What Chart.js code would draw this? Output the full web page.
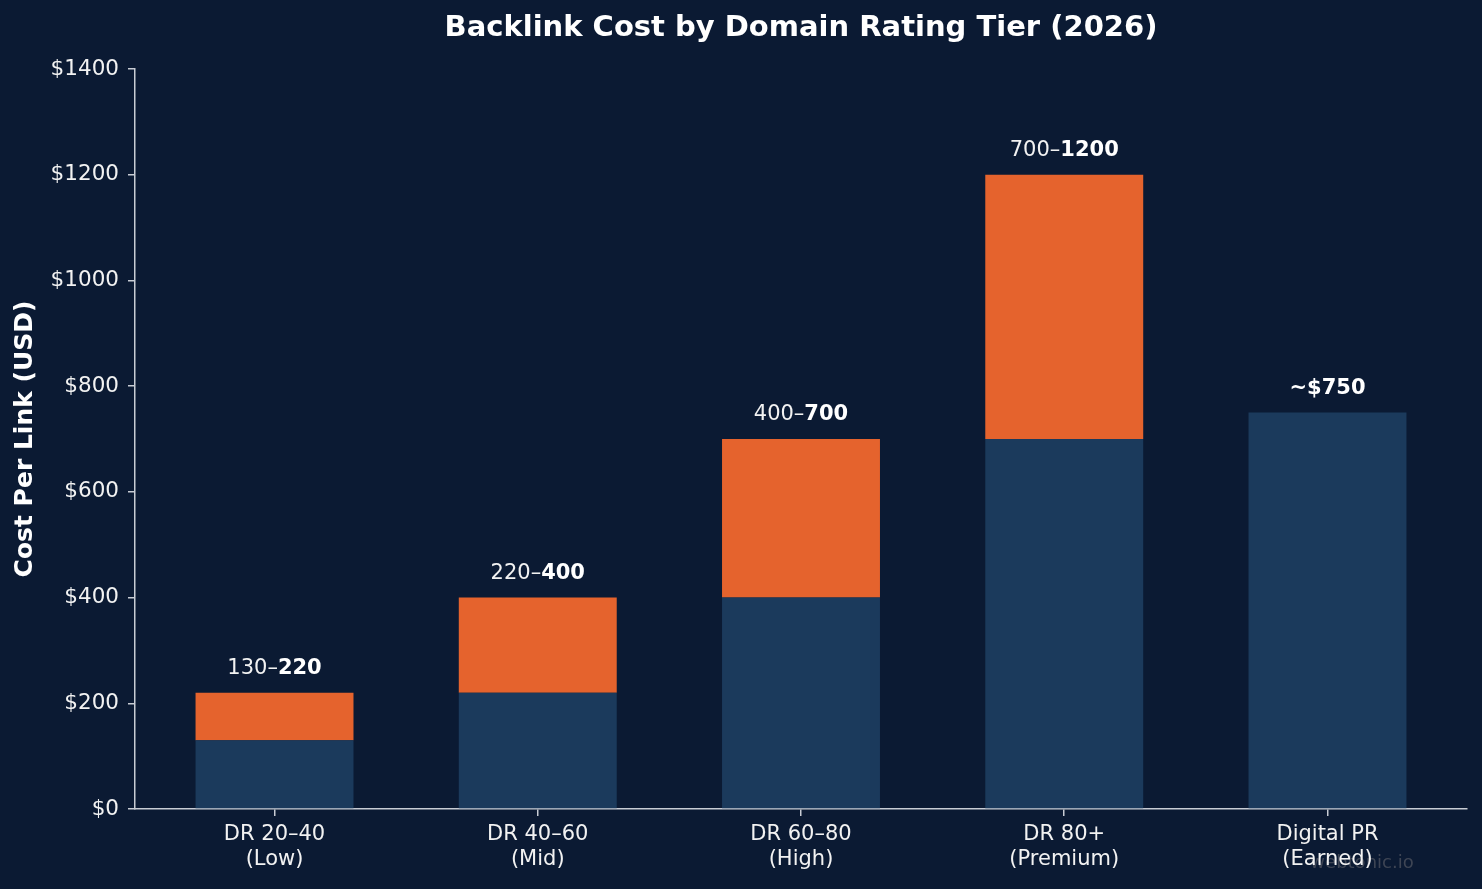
<!DOCTYPE html>
<html><head><meta charset="utf-8">
<script src="https://cdn.jsdelivr.net/npm/chart.js@4.4.1/dist/chart.umd.min.js"></script>
<style>html,body{margin:0;padding:0;background:#0b1a33;}canvas{display:block;}</style>
</head><body>
<canvas id="c" width="1482" height="889"></canvas>
<script>
const categories = [["DR 20–40","(Low)"],["DR 40–60","(Mid)"],["DR 60–80","(High)"],["DR 80+","(Premium)"],["Digital PR","(Earned)"]];
const lowCost = [130, 220, 400, 700, 750];
const highCost = [220, 400, 700, 1200, 750];
const rangeExtra = highCost.map((h, i) => h - lowCost[i]);
const barLabelsNormal = ["130–", "220–", "400–", "700–", ""];
const barLabelsBold = ["220", "400", "700", "1200", "~$750"];
const yTicks = [0, 200, 400, 600, 800, 1000, 1200, 1400];

const BG = '#0b1a33';
const FONT = "'DejaVu Sans', sans-serif";
const TXT = '#f2f2f2';
const SPINE = '#c8ccd4';

const bgPlugin = {
  id: 'bg',
  beforeDraw(chart) {
    const ctx = chart.ctx;
    ctx.save();
    ctx.fillStyle = BG;
    ctx.fillRect(0, 0, chart.width, chart.height);
    ctx.font = `18px ${FONT}`;
    ctx.fillStyle = '#3e4554';
    ctx.textAlign = 'center';
    ctx.textBaseline = 'middle';
    ctx.fillText('webtonic.io', 1362, 863);
    ctx.restore();
  }
};

const textPlugin = {
  id: 'texts',
  afterDraw(chart) {
    const ctx = chart.ctx;
    const xs = chart.scales.x, ys = chart.scales.y;
    ctx.save();
    ctx.fillStyle = '#ffffff';
    ctx.font = `bold 29px ${FONT}`;
    ctx.textAlign = 'center';
    ctx.textBaseline = 'middle';
    ctx.fillText('Backlink Cost by Domain Rating Tier (2026)', (chart.chartArea.left + chart.chartArea.right) / 2, 28);
    for (let i = 0; i < categories.length; i++) {
      const x = xs.getPixelForValue(i);
      const y = ys.getPixelForValue(highCost[i]) - 24;
      ctx.font = `21px ${FONT}`;
      const w1 = ctx.measureText(barLabelsNormal[i]).width;
      ctx.font = `bold 21px ${FONT}`;
      const w2 = ctx.measureText(barLabelsBold[i]).width;
      let sx = x - (w1 + w2) / 2;
      ctx.textAlign = 'left';
      ctx.fillStyle = TXT;
      ctx.font = `21px ${FONT}`;
      ctx.fillText(barLabelsNormal[i], sx, y);
      ctx.font = `bold 21px ${FONT}`;
      ctx.fillStyle = '#ffffff';
      ctx.fillText(barLabelsBold[i], sx + w1, y);
    }
    ctx.restore();
  }
};

new Chart(document.getElementById('c'), {
  type: 'bar',
  data: {
    datasets: [
      { label: 'Low', data: lowCost.map((v, i) => ({ x: i, y: v })), backgroundColor: '#1b3a5c', categoryPercentage: 0.6, barPercentage: 1.0 },
      { label: 'Range', data: rangeExtra.map((v, i) => ({ x: i, y: v })), backgroundColor: '#e5632d', categoryPercentage: 0.6, barPercentage: 1.0 }
    ]
  },
  options: {
    responsive: false,
    animation: false,
    layout: { padding: { top: 69, right: 15, bottom: 0, left: 0 } },
    plugins: { legend: { display: false }, tooltip: { enabled: false }, title: { display: false } },
    scales: {
      x: {
        type: 'linear', stacked: true, min: -0.53, max: 4.53, offset: false,
        afterFit(s) { s.height = 80; },
        afterBuildTicks(s) { s.ticks = categories.map((c, i) => ({ value: i })); },
        ticks: { callback: (v) => categories[v] || '', color: TXT, font: { family: FONT, size: 21 }, padding: 6, maxRotation: 0, autoSkip: false },
        grid: { offset: false, drawOnChartArea: false, drawTicks: true, tickLength: 7, color: SPINE, lineWidth: 1.5 },
        border: { display: true, color: SPINE, width: 1.5 }
      },
      y: {
        stacked: true, min: 0, max: 1400,
        afterFit(s) { s.width = 135; },
        afterBuildTicks(s) { s.ticks = yTicks.map(v => ({ value: v })); },
        ticks: { callback: (v) => '$' + v, color: TXT, font: { family: FONT, size: 21.5 }, padding: 9 },
        grid: { drawOnChartArea: false, drawTicks: true, tickLength: 7, color: SPINE, lineWidth: 1.5 },
        border: { display: true, color: SPINE, width: 1.5 },
        title: { display: true, text: 'Cost Per Link (USD)', color: '#ffffff', font: { family: FONT, size: 25, weight: 'bold' }, padding: { top: 10, bottom: 0 } }
      }
    }
  },
  plugins: [bgPlugin, textPlugin]
});
</script>
</body></html>
